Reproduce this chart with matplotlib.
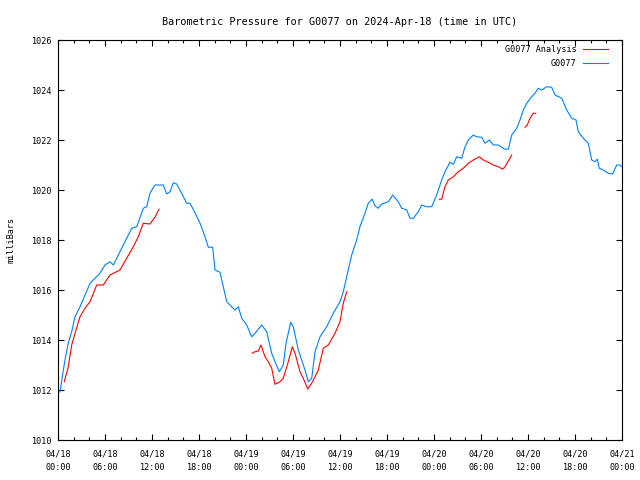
import numpy as np
import matplotlib
matplotlib.use('Agg')
import matplotlib.pyplot as plt
from matplotlib.ticker import MultipleLocator

# hours since 2024-04-18 00:00 UTC
obs_hours = [0.26, 0.55, 0.89, 1.31, 1.75, 2.17, 2.81, 3.45, 4.09, 4.72, 5.36, 6.00,
             6.64, 7.06, 7.70, 8.55, 9.41, 10.05, 10.89, 11.32, 11.74, 12.38, 13.02,
             13.44, 13.88, 14.30, 14.72, 15.15, 15.79, 16.43, 16.85, 17.49, 18.13,
             18.77, 19.19, 19.75, 20.04, 20.68, 21.10, 21.54, 22.17, 22.60, 23.02,
             23.45, 24.09, 24.72, 25.15, 26.00, 26.64, 27.28, 27.70, 28.25, 28.76,
             29.11, 29.71, 30.04, 30.68, 31.11, 31.53, 31.96, 32.39, 32.81, 33.45,
             34.30, 35.14, 36.00, 36.42, 36.86, 37.49, 38.13, 38.55, 39.19, 39.61,
             40.12, 40.47, 40.89, 41.32, 42.17, 42.73, 43.44, 43.88, 44.52, 44.94,
             45.36, 46.00, 46.43, 47.07, 47.71, 48.34, 48.98, 49.40, 50.04, 50.47,
             50.90, 51.54, 51.96, 52.38, 53.02, 53.45, 54.09, 54.51, 55.06, 55.57,
             56.21, 56.64, 57.06, 57.49, 57.92, 58.56, 58.98, 59.40, 59.83, 60.47,
             60.89, 61.31, 61.75, 62.39, 63.02, 63.45, 64.30, 64.94, 65.58, 66.13,
             66.42, 67.06, 67.70, 68.13, 68.55, 68.85, 69.10, 69.61, 70.24, 70.81,
             71.32, 71.74, 71.96]
obs_mb = [1011.92, 1012.53, 1013.20, 1013.88, 1014.33, 1014.93, 1015.33, 1015.80,
          1016.27, 1016.47, 1016.67, 1017.00, 1017.13, 1017.00, 1017.40, 1017.93,
          1018.47, 1018.53, 1019.27, 1019.33, 1019.87, 1020.20, 1020.20, 1020.20,
          1019.84, 1019.93, 1020.29, 1020.24, 1019.87, 1019.47, 1019.47, 1019.09,
          1018.67, 1018.13, 1017.71, 1017.71, 1016.80, 1016.71, 1016.13, 1015.53,
          1015.33, 1015.20, 1015.33, 1014.87, 1014.60, 1014.13, 1014.27, 1014.60,
          1014.33, 1013.47, 1013.13, 1012.73, 1013.00, 1013.87, 1014.71, 1014.53,
          1013.60, 1013.20, 1012.80, 1012.33, 1012.47, 1013.53, 1014.13, 1014.53,
          1015.07, 1015.53, 1015.93, 1016.53, 1017.40, 1018.00, 1018.53, 1019.07,
          1019.47, 1019.63, 1019.36, 1019.27, 1019.44, 1019.53, 1019.80, 1019.53,
          1019.27, 1019.20, 1018.87, 1018.87, 1019.13, 1019.40, 1019.33, 1019.33,
          1019.80, 1020.40, 1020.73, 1021.11, 1021.03, 1021.33, 1021.27, 1021.73,
          1022.00, 1022.20, 1022.13, 1022.11, 1021.87, 1022.00, 1021.80, 1021.80,
          1021.71, 1021.63, 1021.63, 1022.20, 1022.47, 1022.80, 1023.20, 1023.47,
          1023.73, 1023.87, 1024.07, 1024.00, 1024.13, 1024.11, 1023.80, 1023.67,
          1023.20, 1022.87, 1022.80, 1022.33, 1022.07, 1021.87, 1021.20, 1021.13,
          1021.23, 1020.87, 1020.80, 1020.67, 1020.64, 1021.00, 1021.00, 1020.93]

# analysis runs (gaps between them)
ana1_hours = [0.80, 1.31, 1.75, 2.17, 2.81, 3.45, 4.09, 4.94, 5.78, 6.64, 7.91, 8.77,
              9.61, 10.25, 10.89, 11.74, 12.38, 12.89]
ana1_mb = [1012.33, 1012.93, 1013.80, 1014.27, 1014.93, 1015.27, 1015.53, 1016.20,
           1016.20, 1016.60, 1016.80, 1017.27, 1017.73, 1018.13, 1018.67, 1018.64,
           1018.91, 1019.23]
ana2_hours = [24.80, 25.15, 25.57, 25.91, 26.43, 26.85, 27.28, 27.70, 28.34, 28.76,
              29.40, 29.91, 30.26, 30.89, 31.31, 31.88, 32.39, 33.23, 33.87, 34.51,
              35.36, 36.00, 36.42, 36.86]
ana2_mb = [1013.47, 1013.53, 1013.56, 1013.80, 1013.33, 1013.13, 1012.87, 1012.23,
           1012.33, 1012.47, 1013.13, 1013.73, 1013.47, 1012.73, 1012.47, 1012.04,
           1012.27, 1012.80, 1013.67, 1013.80, 1014.27, 1014.73, 1015.47, 1015.93]
ana3_hours = [48.68, 48.98, 49.40, 49.83, 50.47, 51.10, 51.74, 52.38, 53.02, 53.78,
              54.29, 54.93, 55.57, 56.21, 56.77, 57.06, 57.49, 57.92]
ana3_mb = [1019.63, 1019.63, 1020.13, 1020.40, 1020.53, 1020.73, 1020.87, 1021.07,
           1021.20, 1021.33, 1021.20, 1021.11, 1021.00, 1020.93, 1020.83, 1020.93,
           1021.16, 1021.40]
ana4_hours = [59.62, 59.91, 60.26, 60.68, 60.98]
ana4_mb = [1022.51, 1022.60, 1022.87, 1023.07, 1023.07]

tick_labels = ['04/18\n00:00', '04/18\n06:00', '04/18\n12:00', '04/18\n18:00',
               '04/19\n00:00', '04/19\n06:00', '04/19\n12:00', '04/19\n18:00',
               '04/20\n00:00', '04/20\n06:00', '04/20\n12:00', '04/20\n18:00',
               '04/21\n00:00']

plt.rcParams['font.family'] = ['DejaVu Sans Mono']
plt.rcParams['font.size'] = 6.1

fig = plt.figure(figsize=(6.4, 4.8), dpi=100)
ax = fig.add_axes([58/640, 40/480, 564/640, 400/480])

red = '#ff0000'
blue = '#0080ff'
lw = 0.8
ax.plot(ana1_hours, ana1_mb, color=red, lw=lw, label='G0077 Analysis')
for h, p in [(ana2_hours, ana2_mb), (ana3_hours, ana3_mb), (ana4_hours, ana4_mb)]:
    ax.plot(h, p, color=red, lw=lw)
ax.plot(obs_hours, obs_mb, color=blue, lw=lw, label='G0077')

ax.set_xlim(0, 72)
ax.set_ylim(1010, 1026)
ax.set_xticks(np.arange(0, 73, 6))
ax.set_xticklabels(tick_labels, linespacing=1.6)
ax.xaxis.set_minor_locator(MultipleLocator(2))
ax.set_yticks(np.arange(1010, 1027, 2))
ax.tick_params(which='both', direction='in', top=True, right=True, width=0.8)
ax.tick_params(which='major', length=4.5)
ax.tick_params(axis='x', which='major', pad=7)
ax.tick_params(axis='y', which='major', pad=5)
ax.tick_params(which='minor', length=2.5)
for s in ax.spines.values():
    s.set_linewidth(0.8)

ax.set_ylabel('milliBars', labelpad=11)
ax.set_title('Barometric Pressure for G0077 on 2024-Apr-18 (time in UTC)', pad=11)
ax.legend(loc='upper right', frameon=False, markerfirst=False, handlelength=3.0,
          handletextpad=0.8, labelspacing=0.55, borderaxespad=0.2,
          bbox_to_anchor=(0.985, 1.0))

fig.savefig('out.png', dpi=100)
